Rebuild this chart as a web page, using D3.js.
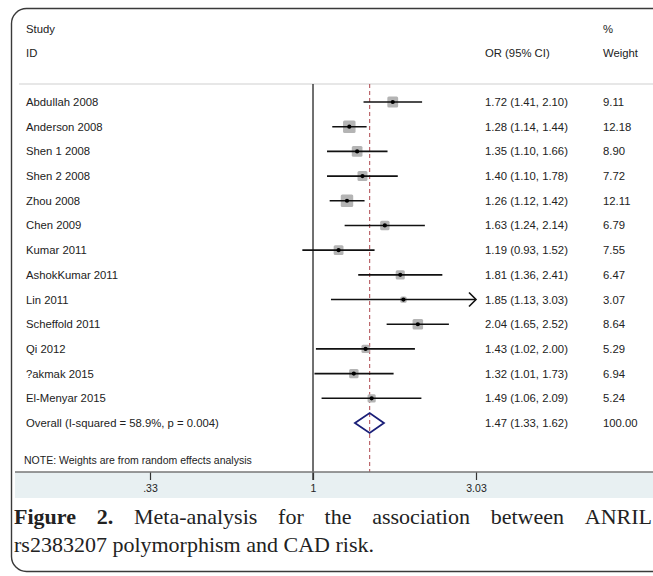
<!DOCTYPE html>
<html>
<head>
<meta charset="utf-8">
<script src="https://cdn.jsdelivr.net/npm/d3@7"></script>
<style>
  body { margin: 0; background: #fff; }
  svg text { font-family: "Liberation Sans", Arial, sans-serif; fill: #222; }
</style>
</head>
<body>
<div class="canvas"></div>
<script>
const studies = ['Abdullah 2008', 'Anderson 2008', 'Shen 1 2008', 'Shen 2 2008', 'Zhou 2008', 'Chen 2009',
  'Kumar 2011', 'AshokKumar 2011', 'Lin 2011', 'Scheffold 2011', 'Qi 2012', '?akmak 2015', 'El-Menyar 2015'];
const oddsRatio = [1.72, 1.28, 1.35, 1.40, 1.26, 1.63, 1.19, 1.81, 1.85, 2.04, 1.43, 1.32, 1.49];
const lower = [1.41, 1.14, 1.10, 1.10, 1.12, 1.24, 0.93, 1.36, 1.13, 1.65, 1.02, 1.01, 1.06];
const upper = [2.10, 1.44, 1.66, 1.78, 1.42, 2.14, 1.52, 2.41, 3.03, 2.52, 2.00, 1.73, 2.09];
const weights = [9.11, 12.18, 8.90, 7.72, 12.11, 6.79, 7.55, 6.47, 3.07, 8.64, 5.29, 6.94, 5.24];
const overall = { label: 'Overall  (I-squared = 58.9%, p = 0.004)', or: 1.47, lo: 1.33, hi: 1.62, w: 100 };
const tickValues = [0.33, 1, 3.03];
const tickLabels = ['.33', '1', '3.03'];

const dimension = { width: 653, height: 576 };

const svg = d3.select('.canvas')
  .append('svg')
  .attr('width', dimension.width)
  .attr('height', dimension.height);

const fmt = d3.format('.2f');

// scales
const x = d3.scaleLog().domain([0.33, 3.03]).range([150, 476]);
const y = d3.scalePoint().domain(d3.range(studies.length + 1)).range([102, 423]);
const side = d3.scaleSqrt().domain([0, 12.18]).range([0, 12.5]);

// frame + bottom band
svg.append('rect')
  .attr('x', 11.5).attr('y', 8.5)
  .attr('width', 720).attr('height', 563)
  .attr('rx', 15)
  .attr('fill', '#fff')
  .attr('stroke', '#3a3a3a')
  .attr('stroke-width', 1.4);

svg.append('rect')
  .attr('x', 15).attr('y', 472)
  .attr('width', 640).attr('height', 26)
  .attr('fill', '#e8f0f2');

// header
const cols = { study: 26, or: 485, weight: 603 };
svg.append('text').attr('x', cols.study).attr('y', 33).attr('font-size', 11.3).text('Study');
svg.append('text').attr('x', cols.study).attr('y', 57).attr('font-size', 11.3).text('ID');
svg.append('text').attr('x', cols.or).attr('y', 57).attr('font-size', 11.3).text('OR (95% CI)');
svg.append('text').attr('x', cols.weight).attr('y', 33).attr('font-size', 11.3).text('%');
svg.append('text').attr('x', cols.weight).attr('y', 57).attr('font-size', 11.3).text('Weight');

svg.append('line')
  .attr('x1', 19).attr('x2', 653)
  .attr('y1', 84).attr('y2', 84)
  .attr('stroke', '#cfcfcf').attr('stroke-width', 1.2);

// null line and overall line
svg.append('line')
  .attr('x1', x(1)).attr('x2', x(1))
  .attr('y1', 84).attr('y2', 480)
  .attr('stroke', '#111').attr('stroke-width', 1.2);

svg.append('line')
  .attr('x1', x(overall.or)).attr('x2', x(overall.or))
  .attr('y1', 84).attr('y2', 472)
  .attr('stroke', '#b5585e').attr('stroke-width', 1.1)
  .attr('stroke-dasharray', '4,3');

// study rows
const rows = studies.map((s, i) => ({
  name: s, or: oddsRatio[i], lo: lower[i], hi: upper[i], w: weights[i], i
}));

const row = svg.selectAll('g.row')
  .data(rows)
  .enter()
  .append('g')
  .attr('class', 'row');

row.append('rect')
  .attr('x', d => x(d.or) - side(d.w) / 2)
  .attr('y', d => y(d.i) - side(d.w) / 2)
  .attr('width', d => side(d.w))
  .attr('height', d => side(d.w))
  .attr('rx', 1.5)
  .attr('fill', '#b4b4b4');

row.append('line')
  .attr('x1', d => x(d.lo))
  .attr('x2', d => x(d.hi))
  .attr('y1', d => y(d.i))
  .attr('y2', d => y(d.i))
  .attr('stroke', '#111')
  .attr('stroke-width', 1.6);

row.append('circle')
  .attr('cx', d => x(d.or))
  .attr('cy', d => y(d.i))
  .attr('r', 2.1)
  .attr('fill', '#000');

// arrow where CI reaches the axis limit
row.filter(d => d.hi >= x.domain()[1])
  .append('path')
  .attr('d', d => {
    const ax = x(d.hi), ay = y(d.i);
    return `M${ax - 7},${ay - 7} L${ax},${ay} L${ax - 7},${ay + 7}`;
  })
  .attr('fill', 'none')
  .attr('stroke', '#111')
  .attr('stroke-width', 1.6);

row.append('text')
  .attr('x', cols.study).attr('y', d => y(d.i) + 4)
  .attr('font-size', 11.3)
  .text(d => d.name);

row.append('text')
  .attr('x', cols.or).attr('y', d => y(d.i) + 4)
  .attr('font-size', 11.3)
  .text(d => `${fmt(d.or)} (${fmt(d.lo)}, ${fmt(d.hi)})`);

row.append('text')
  .attr('x', cols.weight).attr('y', d => y(d.i) + 4)
  .attr('font-size', 11.3)
  .text(d => fmt(d.w));

// overall diamond
const oy = y(studies.length);
svg.append('path')
  .attr('d', `M${x(overall.lo)},${oy} L${x(overall.or)},${oy - 10} L${x(overall.hi)},${oy} L${x(overall.or)},${oy + 10} Z`)
  .attr('fill', 'none')
  .attr('stroke', '#1a1f78')
  .attr('stroke-width', 1.8);

svg.append('text').attr('x', cols.study).attr('y', oy + 4).attr('font-size', 11.3).text(overall.label);
svg.append('text').attr('x', cols.or).attr('y', oy + 4).attr('font-size', 11.3)
  .text(`${fmt(overall.or)} (${fmt(overall.lo)}, ${fmt(overall.hi)})`);
svg.append('text').attr('x', cols.weight).attr('y', oy + 4).attr('font-size', 11.3).text(fmt(overall.w));

svg.append('text').attr('x', 24).attr('y', 464).attr('font-size', 10.5)
  .text('NOTE: Weights are from random effects analysis');

// x axis
const axis = d3.axisBottom(x)
  .tickValues(tickValues)
  .tickFormat((d, i) => tickLabels[i])
  .tickSize(8)
  .tickPadding(5);

const axisG = svg.append('g')
  .attr('transform', 'translate(0, 472)')
  .call(axis);
axisG.select('.domain').remove();
axisG.selectAll('line').attr('stroke', '#333').attr('stroke-width', 1.2);
axisG.selectAll('text').attr('font-size', 10.5).attr('fill', '#333')
  .attr('font-family', '"Liberation Sans", Arial, sans-serif');

svg.append('line')
  .attr('x1', 15).attr('x2', 653)
  .attr('y1', 472).attr('y2', 472)
  .attr('stroke', '#777').attr('stroke-width', 1.5);

// caption (justified first line)
const capFont = 'font-family: "Liberation Serif", "Times New Roman", serif; fill: #222;';
const line1 = [['Figure', true], ['2.', true], ['Meta-analysis', false], ['for', false], ['the', false],
  ['association', false], ['between', false], ['ANRIL', false]];
const capSize = 22;
const words = svg.selectAll('text.cap1')
  .data(line1)
  .enter()
  .append('text')
  .attr('class', 'cap1')
  .attr('style', capFont)
  .attr('font-size', capSize)
  .attr('font-weight', d => d[1] ? 'bold' : 'normal')
  .attr('y', 524)
  .text(d => d[0]);
const widths = [];
words.each(function() { widths.push(this.getComputedTextLength()); });
const gap = (652 - 14 - d3.sum(widths)) / (line1.length - 1);
let cx = 14;
words.attr('x', (d, i) => { const v = cx; cx += widths[i] + gap; return v; });

svg.append('text')
  .attr('style', capFont)
  .attr('font-size', capSize)
  .attr('x', 14).attr('y', 552)
  .text('rs2383207 polymorphism and CAD risk.');
</script>
</body>
</html>
